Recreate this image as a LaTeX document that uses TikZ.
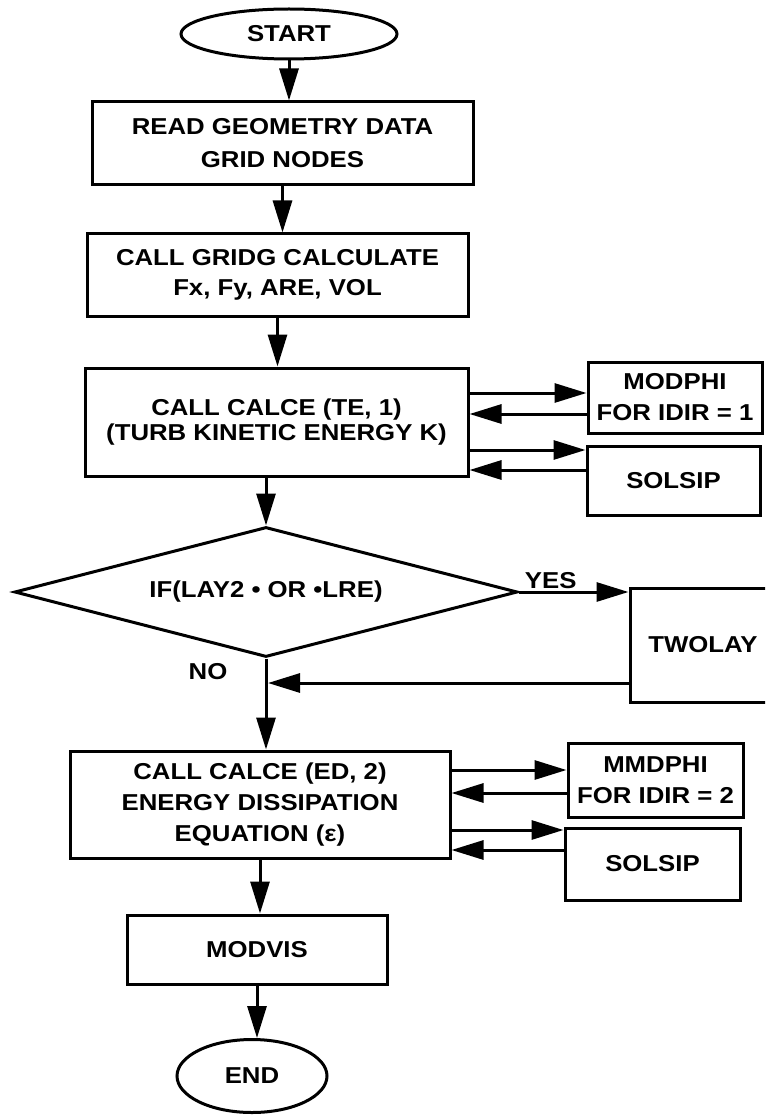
\documentclass[tikz,border=0pt]{standalone}
\usepackage{fontspec}
\setmainfont{Liberation Sans}[FakeStretch=1.12]
\usetikzlibrary{shapes.geometric,arrows.meta}
\newcommand\flowfont{\fontsize{23}{31}\selectfont\bfseries}
\begin{document}
\begin{tikzpicture}[x=1pt,y=-1pt,
  box/.style={draw,line width=3pt,rectangle,inner sep=0pt,align=center,font=\flowfont},
  term/.style={draw,line width=3pt,ellipse,inner sep=0pt,font=\flowfont},
  decision/.style={draw,line width=3pt,diamond,aspect=3.87,inner sep=0pt,font=\flowfont},
  arr/.style={line width=3pt,-{Triangle[length=32pt,width=19pt]}},
  lbl/.style={font=\flowfont,inner sep=2pt}]
\useasboundingbox (0,0) rectangle (765,1115);
\clip (0,0) rectangle (765,1115);

% main column
\node[term, minimum width=216pt, minimum height=50pt] (start) at (289,34) {START};
\node[box, minimum width=381pt, minimum height=83pt] (read) at (282.5,143.5) {READ GEOMETRY DATA\\[2pt]GRID NODES};
\node[box, minimum width=381pt, minimum height=82pt] (gridg) at (277.5,275) {CALL GRIDG CALCULATE\\[-1pt]Fx, Fy, ARE, VOL};
\node[box, minimum width=383pt, minimum height=108pt] (calce1) at (276.5,422) {CALL CALCE (TE, 1)\\[-6pt](TURB KINETIC ENERGY K)};
\node[decision, minimum width=503pt, minimum height=130pt] (dia) at (266,592) {IF(LAY2 • OR •LRE)};
\node[box, minimum width=380pt, minimum height=107pt] (calce2) at (260,804.5) {CALL CALCE (ED, 2)\\ENERGY DISSIPATION\\EQUATION (ε)};
\node[box, minimum width=260pt, minimum height=69pt] (modvis) at (257,949.5) {MODVIS};
\node[term, minimum width=150pt, minimum height=73pt] (end) at (252,1076) {END};

% side boxes
\node[box, minimum width=174pt, minimum height=71pt] (modphi) at (675,397.5) {MODPHI\\FOR IDIR = 1};
\node[box, minimum width=173pt, minimum height=69pt] (solsip1) at (673.5,480.5) {SOLSIP};
\node[box, minimum width=146pt, minimum height=114pt] (twolay) at (703,645) {TWOLAY};
\node[box, minimum width=175pt, minimum height=74pt] (mmdphi) at (655.5,780) {MMDPHI\\FOR IDIR = 2};
\node[box, minimum width=175pt, minimum height=72pt] (solsip2) at (652.5,864) {SOLSIP};

% main arrows
\draw[arr] (start.south) -- (start.south |- read.north);
\draw[arr] (read.south) -- (read.south |- gridg.north);
\draw[arr] (gridg.south) -- (gridg.south |- calce1.north);
\draw[arr] (dia.north |- calce1.south) -- (dia.north);
\draw[arr] (dia.south) -- (dia.south |- calce2.north);
\draw[arr] (calce2.south) -- (calce2.south |- modvis.north);
\draw[arr] (modvis.south) -- (modvis.south |- end.north);

% side arrows, first CALCE
\path ([yshift=29pt]calce1.east) coordinate (p1)
      ([yshift=8pt]calce1.east) coordinate (p2)
      ([yshift=-28pt]calce1.east) coordinate (p3)
      ([yshift=-48pt]calce1.east) coordinate (p4);
\draw[arr] (p1) -- (p1 -| modphi.west);
\draw[arr] (p2 -| modphi.west) -- (p2);
\draw[arr] (p3) -- (p3 -| solsip1.west);
\draw[arr] (p4 -| solsip1.west) -- (p4);

% side arrows, second CALCE
\path ([yshift=34.5pt]calce2.east) coordinate (q1)
      ([yshift=11.5pt]calce2.east) coordinate (q2)
      ([yshift=-25.5pt]calce2.east) coordinate (q3)
      ([yshift=-45.5pt]calce2.east) coordinate (q4);
\draw[arr] (q1) -- (q1 -| mmdphi.west);
\draw[arr] (q2 -| mmdphi.west) -- (q2);
\draw[arr] (q3) -- (q3 -| solsip2.west);
\draw[arr] (q4 -| solsip2.west) -- (q4);

% decision branches
\draw[arr] (dia.east) -- node[lbl, pos=0.29, above] (yes) {YES} (dia.east -| twolay.west);
\coordinate (join) at (268,683);
\draw[arr] (twolay.west |- join) -- (join);
\node[lbl] (no) at (208,672) {NO};
\end{tikzpicture}
\end{document}
